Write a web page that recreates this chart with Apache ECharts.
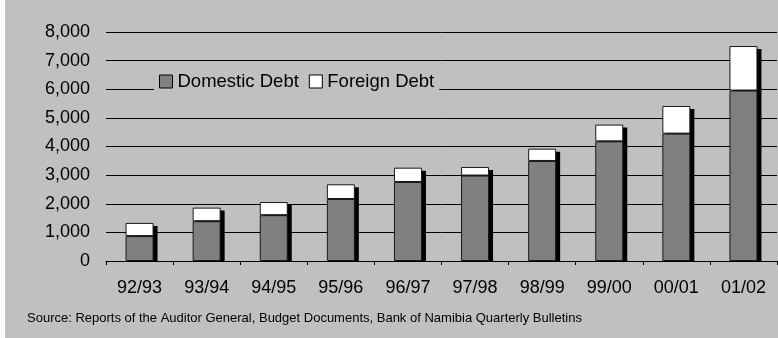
<!DOCTYPE html>
<html>
<head>
<meta charset="utf-8">
<script src="https://cdn.jsdelivr.net/npm/echarts@6/dist/echarts.min.js"></script>
<style>
html,body{margin:0;padding:0;background:#fff;}
#c{width:778px;height:338px;}
</style>
</head>
<body>
<div id="c"></div>
<script>
const categories = ['92/93','93/94','94/95','95/96','96/97','97/98','98/99','99/00','00/01','01/02'];
const domesticDebt = [870, 1390, 1600, 2165, 2760, 2985, 3495, 4180, 4450, 5955];
const foreignDebt = [460, 475, 460, 515, 500, 300, 430, 585, 965, 1555];
const yTicks = {min: 0, max: 8000, interval: 1000};
const sourceText = 'Source: Reports of the Auditor General, Budget Documents, Bank of Namibia Quarterly Bulletins';

const FONT = '"Liberation Sans", Arial, sans-serif';
const BAR_W = 28;
const totals = domesticDebt.map((d, i) => [i, d + foreignDebt[i]]);

const chart = echarts.init(document.getElementById('c'), null, {renderer: 'canvas'});
chart.setOption({
  animation: false,
  backgroundColor: '#c0c0c0',
  textStyle: {fontFamily: FONT, color: '#000'},
  grid: {left: 106, right: 1, top: 32, bottom: 77, containLabel: false},
  graphic: [
    {type: 'rect', left: 0, top: 0, shape: {width: 5, height: 338}, style: {fill: '#ffffff'}, z: 100},
    {type: 'text', left: 27, top: 312, style: {text: sourceText, font: '13px ' + FONT, fill: '#000'}}
  ],
  legend: {
    left: 154, top: 68,
    padding: [4, 5, 4, 5],
    backgroundColor: '#c0c0c0',
    itemGap: 10,
    itemWidth: 13, itemHeight: 13,
    icon: 'rect',
    textStyle: {fontSize: 18.5, fontFamily: FONT, color: '#000'},
    itemStyle: {borderColor: '#000', borderWidth: 1},
    data: ['Domestic Debt', 'Foreign Debt']
  },
  xAxis: {
    type: 'category',
    data: categories,
    boundaryGap: true,
    z: 5,
    axisLine: {show: true, lineStyle: {color: '#000', width: 1}},
    axisTick: {show: true, length: 4, inside: false, alignWithLabel: false, lineStyle: {color: '#000'}},
    axisLabel: {fontSize: 18, color: '#000', margin: 18, fontFamily: FONT},
    splitLine: {show: false}
  },
  yAxis: {
    type: 'value',
    min: yTicks.min, max: yTicks.max, interval: yTicks.interval,
    axisLine: {show: false},
    axisTick: {show: false},
    axisLabel: {
      fontSize: 18, color: '#000', margin: 16, fontFamily: FONT,
      formatter: v => String(v).replace(/\B(?=(\d{3})+(?!\d))/g, ',')
    },
    splitLine: {show: true, lineStyle: {color: '#000', width: 1}}
  },
  series: [
    {
      name: 'shadow', type: 'custom', data: totals, z: 1, silent: true,
      encode: {x: 0, y: 1},
      renderItem: function (params, api) {
        const top = api.coord([api.value(0), api.value(1)]);
        const zero = api.coord([api.value(0), 0]);
        const y0 = top[1] + 3;
        return {
          type: 'rect',
          shape: {x: top[0] - BAR_W / 2 + 4, y: y0, width: BAR_W, height: zero[1] - y0},
          style: {fill: '#000'}
        };
      }
    },
    {
      name: 'Domestic Debt', type: 'bar', stack: 'debt', data: domesticDebt,
      barWidth: BAR_W, z: 3,
      itemStyle: {color: '#808080', borderColor: '#1a1a1a', borderWidth: 1}
    },
    {
      name: 'Foreign Debt', type: 'bar', stack: 'debt', data: foreignDebt,
      barWidth: BAR_W, z: 3,
      itemStyle: {color: '#ffffff', borderColor: '#1a1a1a', borderWidth: 1}
    }
  ]
});
</script>
</body>
</html>
